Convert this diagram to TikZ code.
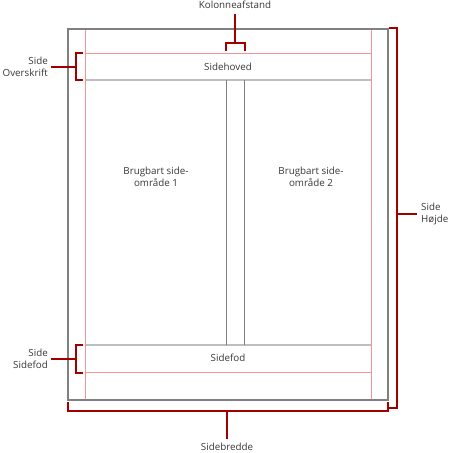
\documentclass[tikz,border=0pt]{standalone}
\usepackage{fontspec}
\setmainfont{Open Sans}
\usepackage{tikz}
\definecolor{pagegray}{RGB}{128,128,128}
\definecolor{marginred}{RGB}{240,150,150}
\definecolor{rulegray}{RGB}{190,190,190}
\definecolor{bracketred}{RGB}{160,0,0}
\definecolor{textgray}{RGB}{55,55,55}
\tikzset{
  lbl/.style={font=\fontsize{9.8}{12}\selectfont, text=textgray, inner sep=0pt, align=center},
  brace/.style={draw=bracketred, line width=2pt},
  margin/.style={draw=marginred, line width=1pt},
}

\begin{document}
\begin{tikzpicture}[x=1pt,y=-1pt]
     \useasboundingbox (0,0) rectangle (456,453);
     \coordinate (TL) at (68,29);
     \coordinate (BR) at (388,400);
      % margins
      \draw[margin] (85.5,29) -- (85.5,400);
      \draw[margin] (371.5,29) -- (371.5,400);
      \draw[margin] (86,53.5) -- (371,53.5);
      \draw[margin] (86,372.5) -- (371,372.5);
      \draw[draw=rulegray, line width=2pt] (86,80) -- (371,80);
      \draw[draw=rulegray, line width=2pt] (86,345) -- (371,345);
      % column gap
      \draw[draw=pagegray, line width=1pt] (226.5,80) -- (226.5,345);
      \draw[draw=pagegray, line width=1pt] (244.5,80) -- (244.5,345);
      \draw[draw=pagegray, line width=2pt] (TL) rectangle (BR);
      \node[lbl] (hoved) at (228,67) {Sidehoved};
      \node[lbl] (fod) at (228,358) {Sidefod};
      \node[lbl] (omr1) at (156,177) {Brugbart side-\\område 1};
      \node[lbl] (omr2) at (311,177) {Brugbart side-\\område 2};
      % brackets
      \node[lbl] (gap) at (235,5) {Kolonneafstand};
      \coordinate (gapmid) at (235,43);
      \draw[brace] (226,51) -- (226,43) -- (245,43) -- (245,51);
      \draw[brace] (gapmid) -- (235,14);
      \node[lbl, align=right, anchor=east] (over) at (48,67) {Side\\Overskrift};
      \coordinate (overmid) at (76,67);
      \draw[brace] (83,53) -- (76,53) -- (76,80) -- (83,80);
      \draw[brace] (overmid) -- (51,67);
      \node[lbl, align=right, anchor=east] (sfod) at (48,359) {Side\\Sidefod};
      \coordinate (sfodmid) at (76,359);
      \draw[brace] (83,345) -- (76,345) -- (76,373) -- (83,373);
      \draw[brace] (sfodmid) -- (51,359);
      \node[lbl, align=left, anchor=west] (hojde) at (421,214) {Side\\Højde};
      \coordinate (hojdemid) at (397,214);
      \draw[brace] (389,28) -- (397,28) -- (397,408) -- (389,408);
      \draw[brace] (hojdemid) -- (417,214);
      \node[lbl] (bredde) at (227,447) {Sidebredde};
      \coordinate (breddemid) at (227,411);
      \draw[brace] (68,402) -- (68,411) -- (388,411) -- (388,402);
      \draw[brace] (breddemid) -- (227,439);
\end{tikzpicture}
\end{document}
